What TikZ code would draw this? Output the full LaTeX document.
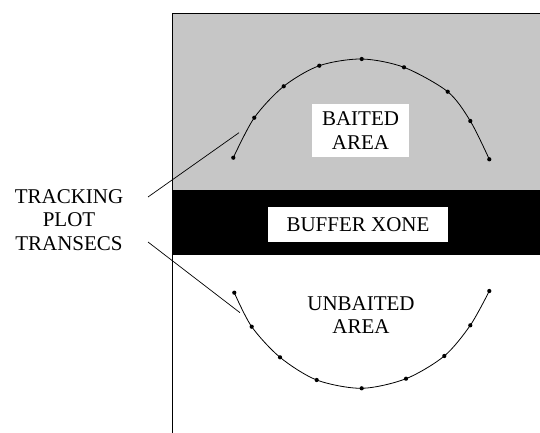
\documentclass[tikz,border=0pt]{standalone}
\usepackage{fontspec}
\setmainfont{Liberation Serif}
\usetikzlibrary{positioning}
\definecolor{baitgray}{RGB}{198,198,198}
\tikzstyle{areabox} = [fill=white, inner sep=0pt, align=center,
font=\fontsize{21}{23.5}\selectfont]
\tikzstyle{areatext} = [inner sep=0pt, align=center,
font=\fontsize{21}{23.5}\selectfont]
\tikzstyle{transect} = [draw, line width=0.8pt]
\tikzstyle{dot} = [circle, fill=black, inner sep=0pt, minimum size=4.2pt]
\tikzstyle{leader} = [draw, line width=0.7pt]
\begin{document}
\begin{tikzpicture}[x=1pt,y=-1pt]
\useasboundingbox (0,0) rectangle (540,433);

\fill[baitgray] (172,13) rectangle (540,190);
\fill[black] (172,190) rectangle (540,255);
\draw[line width=0.9pt] (540,13) -- (172,13) -- (172,433);

\node [areabox, minimum width=97, minimum height=53] (bait) at (360.5,130.5) {BAITED\\AREA};
\node [areabox, minimum width=180, minimum height=35] (buffer) at (358,224.5) {BUFFER XONE};
\node [areatext] (unbait) at (361,315) {UNBAITED\\AREA};
\node [areatext] (track) at (69,220) {TRACKING\\PLOT\\TRANSECS};

% transect points
\foreach \x/\y [count=\i] in {233.3/157.7, 254.3/117.7, 283.7/86.3, 319.3/65.7, 361.7/59,
  404/67.3, 447.7/91.7, 470.3/121, 489.3/159.3}
  \coordinate (u\i) at (\x,\y);
\foreach \x/\y [count=\i] in {234.3/292.7, 251.7/326.7, 280/357.3, 316.7/380, 361.7/388.3,
  406/378.7, 444.3/356, 470.3/325.3, 489.3/291}
  \coordinate (l\i) at (\x,\y);

\draw [transect] plot[smooth] coordinates {(u1) (u2) (u3) (u4) (u5) (u6) (u7) (u8) (u9)};
\draw [transect] plot[smooth] coordinates {(l1) (l2) (l3) (l4) (l5) (l6) (l7) (l8) (l9)};
\foreach \i in {1,...,9} {
  \node [dot] (du\i) at (u\i) {};
  \node [dot] (dl\i) at (l\i) {};
}

% leaders
\coordinate (from1) at (148,197);
\coordinate (from2) at (148,242);
\coordinate (to1) at (239,132.7);
\coordinate (to2) at (240,312.7);
\path [leader] (from1) -- (to1);
\path [leader] (from2) -- (to2);

\end{tikzpicture}
\end{document}
